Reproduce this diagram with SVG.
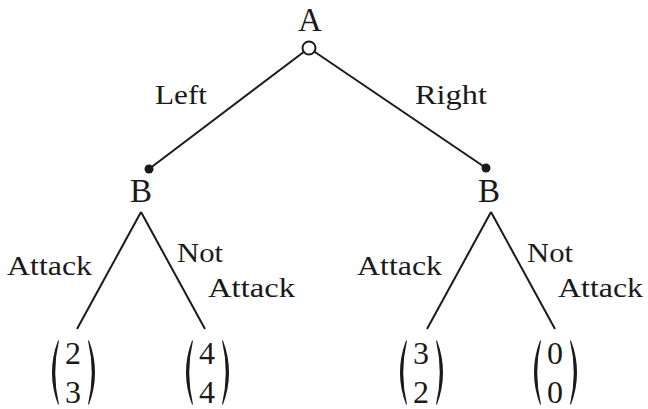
<svg xmlns="http://www.w3.org/2000/svg" xmlns:xlink="http://www.w3.org/1999/xlink" width="648" height="409" viewBox="0 0 648 409">
<style>
text{font-family:"Liberation Serif","DejaVu Serif",serif;fill:#1a1a1a}
.big{font-size:33px;text-anchor:middle}
.lbl{font-size:27px}
.num{font-size:32px;text-anchor:middle}
.edge{stroke:#1a1a1a;stroke-width:2;fill:none}
.dot{fill:#1a1a1a}
</style>
<defs>
<path id="lp" d="M-14.5,340.5 L-15.5,340.5 Q-27.5,372.5 -15.5,404.5 L-14.5,404.5 Q-22,372.5 -14.5,340.5 Z" fill="#1a1a1a"/>
<path id="rp" d="M14.5,340.5 L15.5,340.5 Q27.5,372.5 15.5,404.5 L14.5,404.5 Q22,372.5 14.5,340.5 Z" fill="#1a1a1a"/>
</defs>
<rect width="648" height="409" fill="#fff"/>
<g id="connectors">
<line class="edge" x1="309" y1="48" x2="149" y2="169"/>
<line class="edge" x1="309" y1="48" x2="486" y2="168"/>
<line class="edge" x1="141" y1="212" x2="77" y2="329"/>
<line class="edge" x1="141" y1="212" x2="205" y2="329"/>
<line class="edge" x1="491" y1="212" x2="427" y2="329"/>
<line class="edge" x1="491" y1="212" x2="555" y2="329"/>
<text class="lbl" x="155" y="104" textLength="52" lengthAdjust="spacingAndGlyphs">Left</text>
<text class="lbl" x="415" y="104" textLength="72" lengthAdjust="spacingAndGlyphs">Right</text>
<text class="lbl" x="7" y="275" textLength="85" lengthAdjust="spacingAndGlyphs">Attack</text>
<text class="lbl" x="177" y="262" textLength="46" lengthAdjust="spacingAndGlyphs">Not</text>
<text class="lbl" x="208" y="297" textLength="87" lengthAdjust="spacingAndGlyphs">Attack</text>
<text class="lbl" x="357" y="275" textLength="85" lengthAdjust="spacingAndGlyphs">Attack</text>
<text class="lbl" x="527" y="262" textLength="46" lengthAdjust="spacingAndGlyphs">Not</text>
<text class="lbl" x="558" y="297" textLength="85" lengthAdjust="spacingAndGlyphs">Attack</text>
</g>
<g id="nodeA">
<text class="big" x="310" y="31">A</text>
<circle cx="309" cy="48" r="6.5" fill="#fff" stroke="#1a1a1a" stroke-width="2"/>
</g>
<g id="nodeB1">
<circle class="dot" cx="149" cy="169" r="4.5"/>
<text class="big" x="141" y="202">B</text>
</g>
<g id="nodeB2">
<circle class="dot" cx="486" cy="168" r="4.5"/>
<text class="big" x="489" y="202">B</text>
</g>
<g id="leaf1">
<use xlink:href="#lp" x="73.5"/><use xlink:href="#rp" x="73.5"/>
<text class="num" x="73" y="364">2</text>
<text class="num" x="73" y="403">3</text>
</g>
<g id="leaf2">
<use xlink:href="#lp" x="207.5"/><use xlink:href="#rp" x="207.5"/>
<text class="num" x="207" y="364">4</text>
<text class="num" x="207" y="403">4</text>
</g>
<g id="leaf3">
<use xlink:href="#lp" x="421.5"/><use xlink:href="#rp" x="421.5"/>
<text class="num" x="421" y="364">3</text>
<text class="num" x="421" y="403">2</text>
</g>
<g id="leaf4">
<use xlink:href="#lp" x="555.5"/><use xlink:href="#rp" x="555.5"/>
<text class="num" x="555" y="364">0</text>
<text class="num" x="555" y="403">0</text>
</g>
</svg>
